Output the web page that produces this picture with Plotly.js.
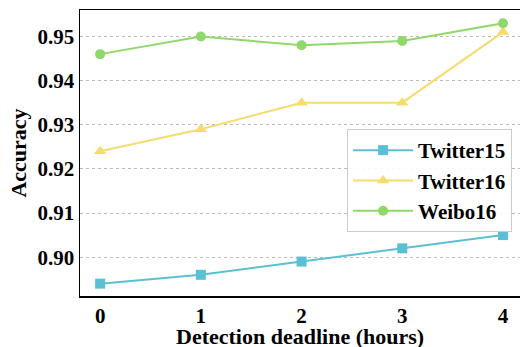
<!DOCTYPE html>
<html><head><meta charset="utf-8">
<script src="https://cdn.plot.ly/plotly-3.0.1.min.js"></script>
<style>html,body{margin:0;padding:0;background:#fff}#c{width:520px;height:347px}</style>
</head><body><div id="c"></div>
<script>
const hours = [0, 1, 2, 3, 4];
const twitter15 = [0.894, 0.896, 0.899, 0.902, 0.905];
const twitter16 = [0.924, 0.929, 0.935, 0.935, 0.951];
const weibo16 = [0.946, 0.950, 0.948, 0.949, 0.953];
const yTicks = [0.90, 0.91, 0.92, 0.93, 0.94, 0.95];
const yTickText = ['0.90', '0.91', '0.92', '0.93', '0.94', '0.95'];
const xTitle = 'Detection deadline (hours)';
const yTitle = 'Accuracy';

const F = 'Liberation Serif, Times New Roman, serif';
const mk = (name, y, color, symbol, size) => ({
  x: hours, y: y, name: '<b>' + name + '</b>', type: 'scatter', mode: 'lines+markers',
  line: {color: color, width: 2},
  marker: {color: color, symbol: symbol, size: size}
});
const data = [
  mk('Twitter15', twitter15, '#5BC0D3', 'square', 10),
  mk('Twitter16', twitter16, '#F6DB6E', 'triangle-up', 11),
  mk('Weibo16', weibo16, '#8FD86A', 'circle', 10)
];
const layout = {
  width: 520, height: 347,
  margin: {l: 80, r: 0, t: 10, b: 51},
  paper_bgcolor: '#fff', plot_bgcolor: '#fff',
  font: {family: F, color: '#000'},
  showlegend: true,
  legend: {x: 0.607, y: 0.584, xanchor: 'left', yanchor: 'top',
    bordercolor: '#cccccc', borderwidth: 1, bgcolor: 'rgba(255,255,255,0.9)',
    font: {family: F, size: 21}, tracegroupgap: 0, itemwidth: 60},
  xaxis: {range: [-0.2, 4.169], tickvals: hours, ticktext: hours.map(h => '<b>' + h + '</b>'),
    showgrid: false, zeroline: false, showline: true, linecolor: '#000', linewidth: 1.5, mirror: true,
    ticks: '', tickfont: {family: F, size: 21}, automargin: false},
  yaxis: {range: [0.8912, 0.956], tickvals: yTicks, ticktext: yTickText.map(t => '<b>' + t + '</b>'),
    showgrid: true, gridcolor: '#bbbbbb', griddash: 'dot', gridwidth: 1,
    zeroline: false, showline: true, linecolor: '#000', linewidth: 1.5, mirror: true,
    ticks: '', ticklen: 0, tickfont: {family: F, size: 21}, automargin: false,
    title: {text: '<b>' + yTitle + '</b>', font: {family: F, size: 22}}},
  annotations: [{text: '<b>' + xTitle + '</b>', xref: 'paper', yref: 'paper',
    x: 0.5, y: -0.142, xanchor: 'center', yanchor: 'middle', showarrow: false,
    font: {family: F, size: 22, color: '#000'}}]
};
Plotly.newPlot('c', data, layout, {displayModeBar: false, staticPlot: true});
</script></body></html>
